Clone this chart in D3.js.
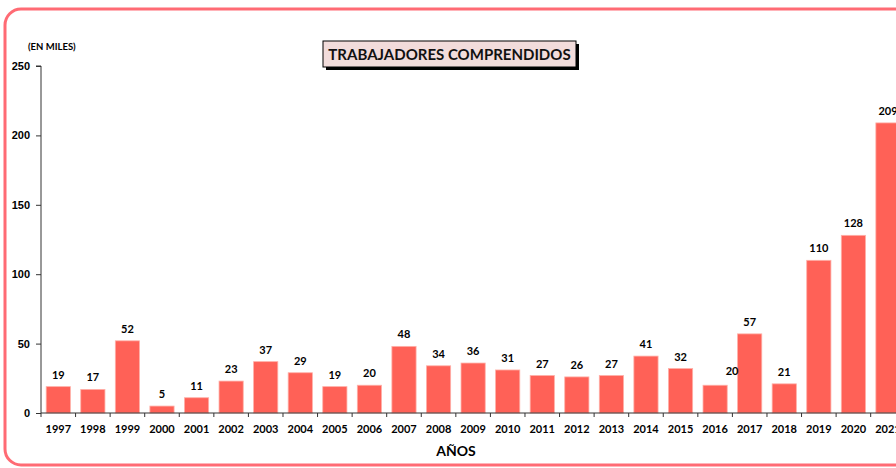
<!DOCTYPE html>
<html>
<head>
<meta charset="utf-8">
<script src="https://cdn.jsdelivr.net/npm/d3@7"></script>
<style>
  body { margin: 0; background: #fff; }
  svg { display: block; font-family: Lato, "Open Sans", sans-serif; }
</style>
</head>
<body>
<svg width="896" height="468"></svg>
<script>
// datos
const years = ["1997","1998","1999","2000","2001","2002","2003","2004","2005","2006","2007","2008","2009",
  "2010","2011","2012","2013","2014","2015","2016","2017","2018","2019","2020","2021"];
const workers = [19,17,52,5,11,23,37,29,19,20,48,34,36,31,27,26,27,41,32,20,57,21,110,128,209];
const yTicks = [0,50,100,150,200,250];

const svg = d3.select('svg');
const plotLeft = 41, plotBottom = 413, plotTop = 66;
const step = 34.57;

// marco redondeado
svg.append('rect')
  .attr('x', 5).attr('y', 9)
  .attr('width', 940).attr('height', 456)
  .attr('rx', 16)
  .attr('fill', 'none')
  .attr('stroke', '#ff6b74')
  .attr('stroke-width', 3);

const x = d3.scaleBand()
  .domain(years)
  .range([plotLeft, plotLeft + step * years.length])
  .paddingInner(0.3)
  .paddingOuter(0.15);

const y = d3.scaleLinear().domain([0, 250]).range([plotBottom, plotTop]);

// eje Y
const yAxis = svg.append('g')
  .attr('transform', `translate(${plotLeft},0)`)
  .call(d3.axisLeft(y).tickValues(yTicks).tickSize(5).tickPadding(6));
yAxis.selectAll('text').attr('font-size', 11).attr('font-weight', 'bold').attr('fill', '#000');
yAxis.selectAll('line,path').attr('stroke', '#333');
yAxis.select('.domain').attr('d', `M-5,${plotTop}H0V${plotBottom}`);

// barras
svg.selectAll('rect.bar')
  .data(workers)
  .join('rect')
  .attr('class', 'bar')
  .attr('x', (d, i) => x(years[i]))
  .attr('y', d => y(d))
  .attr('width', x.bandwidth())
  .attr('height', d => plotBottom - y(d))
  .attr('fill', '#ff6157')
  .attr('stroke', '#ffb0a8')
  .attr('stroke-width', 0.8);

// eje X
const xAxisG = svg.append('g').attr('transform', `translate(0,${plotBottom})`);
xAxisG.append('line')
  .attr('x1', plotLeft).attr('x2', 900)
  .attr('stroke', '#333');
xAxisG.selectAll('line.tick')
  .data(years)
  .join('line')
  .attr('class', 'tick')
  .attr('x1', (d, i) => plotLeft + step * i)
  .attr('x2', (d, i) => plotLeft + step * i)
  .attr('y2', 4)
  .attr('stroke', '#333');
xAxisG.selectAll('text')
  .data(years)
  .join('text')
  .attr('x', d => x(d) + x.bandwidth() / 2)
  .attr('y', 20)
  .attr('text-anchor', 'middle')
  .attr('font-size', 11)
  .attr('font-weight', 'bold')
  .text(d => d);

// etiquetas de valores
svg.selectAll('text.val')
  .data(workers)
  .join('text')
  .attr('class', 'val')
  .attr('x', (d, i) => x(years[i]) + x.bandwidth() / 2 + (years[i] === '2016' ? 17 : 0))
  .attr('y', (d, i) => y(d) - (years[i] === '2016' ? 10 : 8))
  .attr('text-anchor', 'middle')
  .attr('font-size', 11)
  .attr('font-weight', 'bold')
  .text(d => d);

// textos
svg.append('text')
  .attr('x', 28).attr('y', 50)
  .attr('font-size', 9.5).attr('font-weight', 'bold')
  .text('(EN MILES)');

svg.append('text')
  .attr('x', 456).attr('y', 456)
  .attr('text-anchor', 'middle')
  .attr('font-size', 14).attr('font-weight', 'bold')
  .text('AÑOS');

// titulo con sombra
const tb = svg.append('g');
tb.append('rect')
  .attr('x', 326).attr('y', 44)
  .attr('width', 253).attr('height', 26)
  .attr('fill', '#000');
tb.append('rect')
  .attr('x', 323).attr('y', 41)
  .attr('width', 253).attr('height', 26)
  .attr('fill', '#f2dcdb')
  .attr('stroke', '#000')
  .attr('stroke-width', 1);
tb.append('text')
  .attr('x', 449.5).attr('y', 59.5)
  .attr('text-anchor', 'middle')
  .attr('font-size', 15).attr('font-weight', 'bold')
  .attr('fill', '#111')
  .text('TRABAJADORES COMPRENDIDOS');
</script>
</body>
</html>
